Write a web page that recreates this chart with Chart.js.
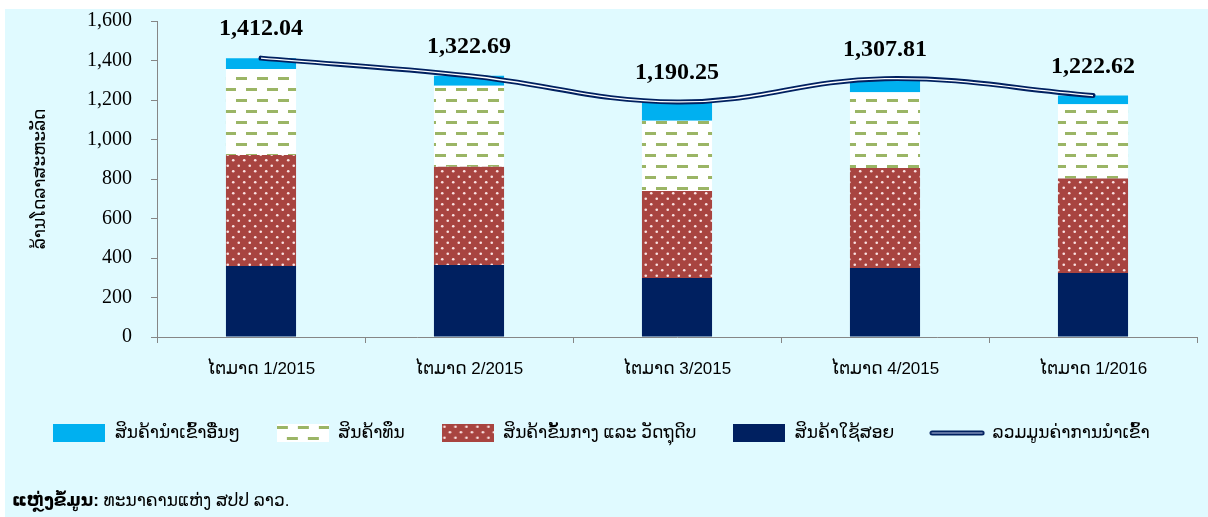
<!DOCTYPE html>
<html>
<head>
<meta charset="utf-8">
<script src="https://cdn.jsdelivr.net/npm/chart.js@4"></script>
<style>
  body { margin: 0; background: #fff; }
  #wrap { position: absolute; left: 5px; top: 9px; width: 1203px; height: 508px; background: #E0FAFF; }
  #src { position: absolute; left: 7px; top: 482px; font: 17px "Liberation Sans", "DejaVu Sans", sans-serif; color: #000; line-height: 20px; }
</style>
</head>
<body>
<div id="wrap">
  <canvas id="chart" width="1203" height="508"></canvas>
  <div id="src"><b>ແຫຼ່ງຂໍ້ມູນ:</b> ທະນາຄານແຫ່ງ ສປປ ລາວ.</div>
</div>
<script>
const categories = ['ໄຕມາດ 1/2015', 'ໄຕມາດ 2/2015', 'ໄຕມາດ 3/2015', 'ໄຕມາດ 4/2015', 'ໄຕມາດ 1/2016'];
const consumer = [359, 365, 299, 349, 324];
const intermediate = [562, 497, 440, 507, 478];
const capital = [436, 410, 356, 383, 376];
const other = [55, 51, 95, 69, 45];
const total = [1412.04, 1322.69, 1190.25, 1307.81, 1222.62];
const yTicks = [0, 200, 400, 600, 800, 1000, 1200, 1400, 1600];

const laoFont = '"Liberation Sans", "DejaVu Sans", sans-serif';
const NAVY = '#002060';
const BLUE = '#00B0F0';
const RED = '#A84440';
const GREEN = '#9BB565';

// hatch patterns like the excel fills
function dashTile() {
  const c = document.createElement('canvas');
  c.width = 21; c.height = 22;
  const g = c.getContext('2d');
  g.fillStyle = '#fff';
  g.fillRect(0, 0, 21, 22);
  g.fillStyle = GREEN;
  g.fillRect(0, 2, 11, 3);
  g.fillRect(10, 13, 11, 3);
  return c;
}
function dotTile() {
  const c = document.createElement('canvas');
  c.width = 11; c.height = 11;
  const g = c.getContext('2d');
  g.fillStyle = RED;
  g.fillRect(0, 0, 11, 11);
  g.fillStyle = 'rgba(255,235,235,0.95)';
  g.beginPath(); g.arc(2.75, 2.75, 1.3, 0, Math.PI * 2); g.fill();
  g.beginPath(); g.arc(8.25, 8.25, 1.3, 0, Math.PI * 2); g.fill();
  return c;
}
const tmp = document.createElement('canvas').getContext('2d');
const dashPattern = tmp.createPattern(dashTile(), 'repeat');
const dotPattern = tmp.createPattern(dotTile(), 'repeat');

function boxIcon(fill) {
  const c = document.createElement('canvas');
  c.width = 52; c.height = 18;
  const g = c.getContext('2d');
  g.fillStyle = fill;
  g.fillRect(0, 0, 52, 18);
  return c;
}
function lineIcon() {
  const c = document.createElement('canvas');
  c.width = 56; c.height = 8;
  const g = c.getContext('2d');
  g.lineCap = 'round';
  g.strokeStyle = NAVY; g.lineWidth = 5;
  g.beginPath(); g.moveTo(3, 4); g.lineTo(53, 4); g.stroke();
  g.strokeStyle = '#7f8fb8'; g.lineWidth = 1.5;
  g.beginPath(); g.moveTo(3, 4); g.lineTo(53, 4); g.stroke();
  return c;
}

const icons = [boxIcon(NAVY), boxIcon(dotPattern), boxIcon(dashPattern), boxIcon(BLUE), lineIcon()];
const legendOrder = [3, 2, 1, 0, 4];

const legendPad = 36;
const legendFont = 17;

const totalLabels = {
  id: 'totalLabels',
  afterDatasetsDraw(chart) {
    const ctx = chart.ctx;
    const x = chart.scales.x, y = chart.scales.y;
    ctx.save();
    ctx.font = 'bold 24px "Liberation Serif", serif';
    ctx.fillStyle = '#000';
    ctx.textAlign = 'center';
    ctx.textBaseline = 'middle';
    total.forEach((v, i) => {
      const txt = v.toLocaleString('en-US', { minimumFractionDigits: 2 });
      ctx.fillText(txt, x.getPixelForValue(i), y.getPixelForValue(v) - 29);
    });
    ctx.restore();
  }
};

new Chart(document.getElementById('chart'), {
  data: {
    labels: categories,
    datasets: [
      { type: 'bar', label: 'ສິນຄ້າໃຊ້ສອຍ', data: consumer, backgroundColor: NAVY, stack: 'imp', order: 1 },
      { type: 'bar', label: 'ສິນຄ້າຂັ້ນກາງ ແລະ ວັດຖຸດິບ', data: intermediate, backgroundColor: dotPattern, stack: 'imp', order: 1 },
      { type: 'bar', label: 'ສິນຄ້າທຶນ', data: capital, backgroundColor: dashPattern, stack: 'imp', order: 1 },
      { type: 'bar', label: 'ສິນຄ້ານຳເຂົ້າອື່ນໆ', data: other, backgroundColor: BLUE, stack: 'imp', order: 1 },
      { type: 'line', label: 'ລວມມູນຄ່າການນຳເຂົ້າ', data: total, borderColor: NAVY, borderWidth: 5,
        tension: 0.4, pointRadius: 0, stack: 'tot', order: 0, borderCapStyle: 'round' },
      { type: 'line', label: 'core', data: total, borderColor: '#ffffff', borderWidth: 1.3,
        tension: 0.4, pointRadius: 0, stack: 'tot2', order: -1 }
    ]
  },
  options: {
    responsive: false,
    animation: false,
    layout: { padding: { left: 0, right: 11, top: 0, bottom: 508 - 442.5 } },
    datasets: { bar: { categoryPercentage: 1, barPercentage: 0.337 } },
    scales: {
      x: {
        stacked: true,
        grid: { drawOnChartArea: false, tickLength: 6, color: '#868686' },
        border: { color: '#868686' },
        ticks: { color: '#000', padding: 16, font: { family: laoFont, size: 17 } },
        afterFit(s) { s.height = (442.5 - (17 + legendPad + 10)) - 328; }
      },
      y: {
        stacked: true,
        min: 0, max: 1600,
        afterBuildTicks(s) { s.ticks = yTicks.map(v => ({ value: v })); },
        grid: { drawOnChartArea: false, tickLength: 6, color: '#868686' },
        border: { color: '#868686' },
        ticks: {
          color: '#000', padding: 19,
          font: { family: '"Liberation Serif", serif', size: 20 },
          callback: v => v.toLocaleString('en-US')
        },
        title: {
          display: true, text: 'ລ້ານໂດລາສະຫະລັດ', color: '#000',
          font: { family: laoFont, size: 17 }, padding: { top: 25, bottom: 0 }
        },
        afterFit(s) {
          s.width = 152;
          s.paddingTop = 12;
          s.paddingBottom = 10;
        }
      }
    },
    plugins: {
      legend: {
        position: 'bottom',
        onClick: null,
        labels: {
          usePointStyle: true,
          pointStyleWidth: 54,
          padding: legendPad,
          color: '#000',
          font: { family: laoFont, size: legendFont },
          generateLabels: chart => legendOrder.map(i => ({
            text: chart.data.datasets[i].label,
            pointStyle: icons[i],
            datasetIndex: i,
            hidden: false,
            fontColor: '#000',
            lineWidth: 0,
            strokeStyle: 'rgba(0,0,0,0)',
            fillStyle: 'rgba(0,0,0,0)'
          }))
        }
      },
      tooltip: { enabled: false }
    }
  },
  plugins: [totalLabels]
});
</script>
</body>
</html>
